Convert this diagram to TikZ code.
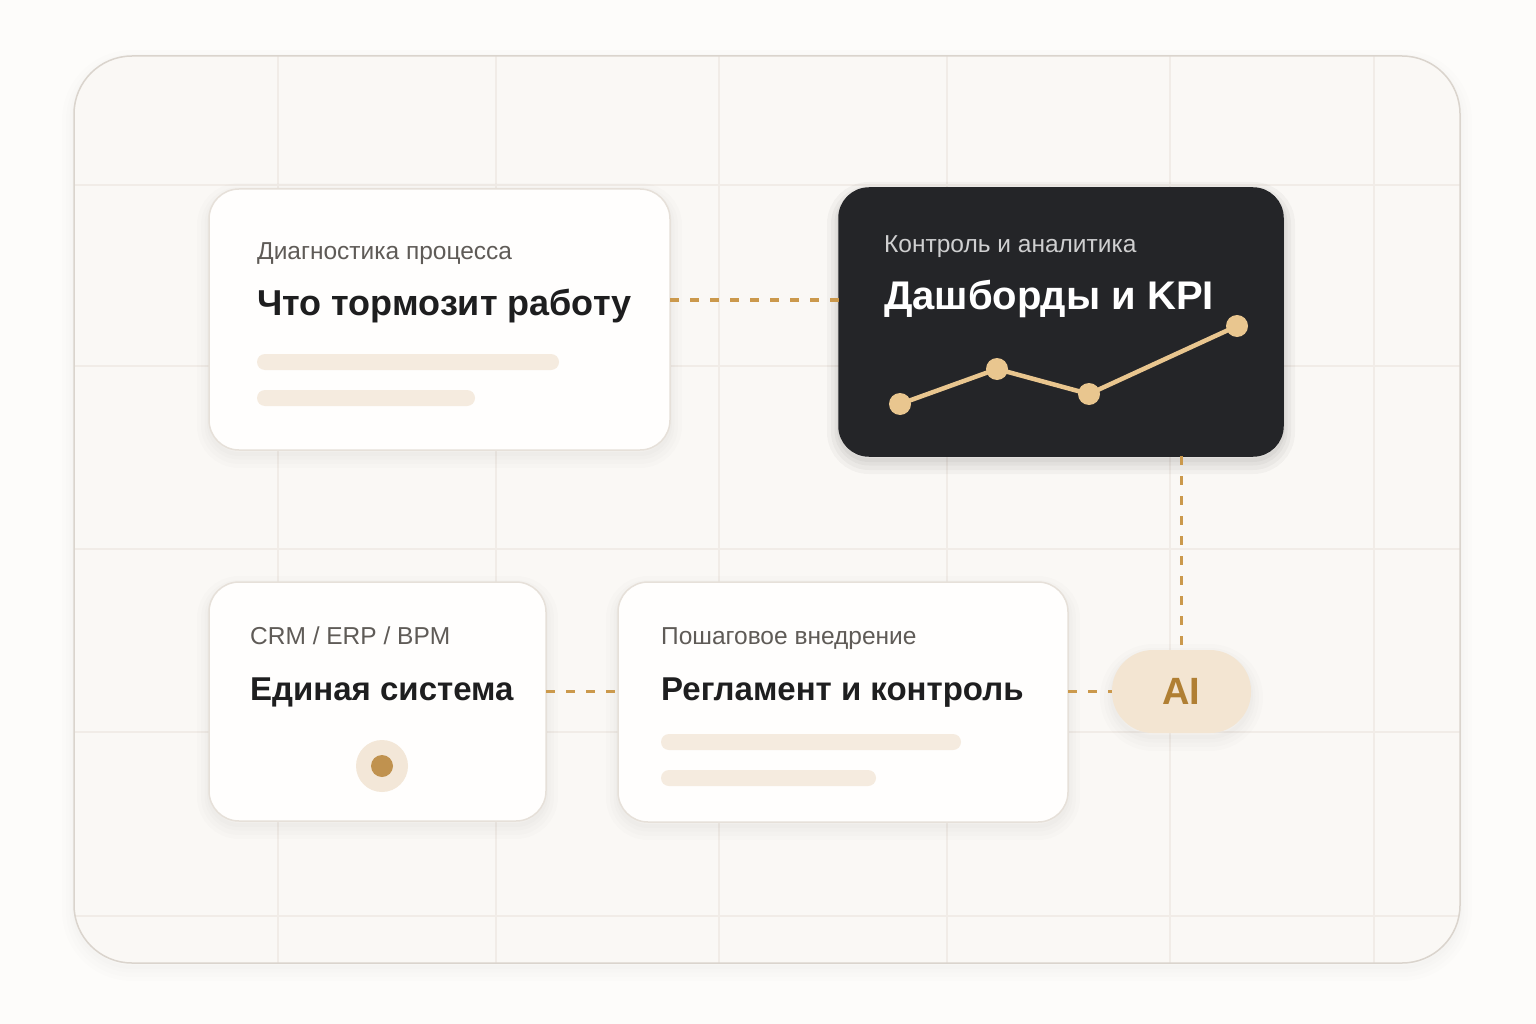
\documentclass[tikz,border=0pt]{standalone}
\usepackage{fontspec}
\setmainfont{Liberation Sans}
\usetikzlibrary{positioning}
\definecolor{paper}{HTML}{FDFCFA}
\definecolor{board}{HTML}{FAF8F5}
\definecolor{boardline}{HTML}{DAD4CD}
\definecolor{gridline}{HTML}{F1ECE7}
\definecolor{cardfill}{HTML}{FFFEFD}
\definecolor{cardline}{HTML}{E6E0D9}
\definecolor{darkcard}{HTML}{242528}
\definecolor{subgray}{HTML}{5F5B57}
\definecolor{sublight}{HTML}{CFCFD0}
\definecolor{ink}{HTML}{1E1E1F}
\definecolor{sand}{HTML}{F5EBDF}
\definecolor{gold}{HTML}{CB994C}
\definecolor{chart}{HTML}{E9C68F}
\definecolor{aifill}{HTML}{F3E5D2}
\definecolor{aitext}{HTML}{B07F33}
\definecolor{coin}{HTML}{C0924F}
\definecolor{coinring}{HTML}{F3E7D8}

\begin{document}
\begin{tikzpicture}[x=1pt,y=-1pt]
  \tikzset{
    softshadow/.style={
      preaction={draw=black, draw opacity=#1, line width=24pt, transform canvas={yshift=-6pt}},
      preaction={draw=black, draw opacity=#1, line width=16pt, transform canvas={yshift=-6pt}},
      preaction={draw=black, draw opacity=#1, line width=9pt, transform canvas={yshift=-5pt}},
      preaction={draw=black, draw opacity=#1, line width=4pt, transform canvas={yshift=-4pt}}},
    card/.style={rectangle, rounded corners=30pt, fill=cardfill, draw=cardline, line width=1.5pt,
      inner sep=0pt, outer sep=0pt, softshadow=0.01},
    darkbox/.style={card, fill=darkcard, draw=darkcard, softshadow=0.02},
    pill/.style={rectangle, rounded corners=41pt, fill=aifill, inner sep=0pt, outer sep=0pt,
      font=\fontsize{38}{40}\selectfont\bfseries, text=aitext, softshadow=0.01},
    sub/.style={anchor=base west, inner sep=0pt, text=subgray, font=\fontsize{24.5}{27}\selectfont},
    title/.style={anchor=base west, inner sep=0pt, text=ink, font=\fontsize{36}{39}\selectfont\bfseries},
    bar/.style={fill=sand, rounded corners=8pt},
    link/.style={draw=gold, line width=3.5pt, dash pattern=on 9pt off 11pt},
    chartline/.style={draw=chart, line width=4.5pt, line join=round},
    chartdot/.style={fill=chart},
  }
  \useasboundingbox (0,0) rectangle (1536,1024);
  \fill[paper] (0,0) rectangle (1536,1024);

  % The board with its grid.
  \path[fill=board, rounded corners=58pt, softshadow=0.006] (74,56) rectangle (1460,963);
  \begin{scope}
    \clip[rounded corners=58pt] (74,56) rectangle (1460,963);
    \draw[gridline, line width=1.2pt] (278,56) -- (278,963);
    \draw[gridline, line width=1.2pt] (496,56) -- (496,963);
    \draw[gridline, line width=1.2pt] (719,56) -- (719,963);
    \draw[gridline, line width=1.2pt] (947,56) -- (947,963);
    \draw[gridline, line width=1.2pt] (1170,56) -- (1170,963);
    \draw[gridline, line width=1.2pt] (1374,56) -- (1374,963);
    \draw[gridline, line width=1.2pt] (74,185) -- (1460,185);
    \draw[gridline, line width=1.2pt] (74,366) -- (1460,366);
    \draw[gridline, line width=1.2pt] (74,549) -- (1460,549);
    \draw[gridline, line width=1.2pt] (74,732) -- (1460,732);
    \draw[gridline, line width=1.2pt] (74,916) -- (1460,916);
  \end{scope}
  \draw[boardline, line width=1.5pt, rounded corners=58pt] (74,56) rectangle (1460,963);

  % Cards first, so the links can start at their edges.
  \node[card, minimum width=461pt, minimum height=261pt] (diag) at (439.5,319.5) {};
  \node[darkbox, minimum width=444pt, minimum height=268pt] (kpi) at (1061,322) {};
  \node[card, minimum width=337pt, minimum height=239pt] (crm) at (377.5,701.5) {};
  \node[card, minimum width=450pt, minimum height=240pt] (rules) at (843,702) {};
  \node[pill, minimum width=139pt, minimum height=83pt] (ai) at (1181.5,691.5) {AI};

  % Dashed links between the cards.
  \coordinate (toprow) at (0,300);
  \draw[link] (diag.east |- toprow) -- (kpi.west |- toprow);
  \draw[link] (ai.north |- kpi.south) -- (ai.north);
  \draw[link] (crm.east |- ai) -- (rules.west |- ai);
  \draw[link] (rules.east |- ai) -- (ai.west);

  % Texts of the cards.
  \node[sub] (diagsub) at (257,260) {Диагностика процесса};
  \node[title] (diagtitle) at (257,316) {Что тормозит работу};
  \node[sub, text=sublight] (kpisub) at (884,253) {Контроль и аналитика};
  \node[title, text=white, font=\fontsize{40}{43}\selectfont\bfseries] (kpititle) at (884,309) {Дашборды и KPI};
  \node[sub] (crmsub) at (250,644) {CRM / ERP / BPM};
  \node[title, font=\fontsize{33}{36}\selectfont\bfseries] (crmtitle) at (250,700) {Единая система};
  \node[sub] (rulessub) at (661,644) {Пошаговое внедрение};
  \node[title, font=\fontsize{33}{36}\selectfont\bfseries] (rulestitle) at (661,700) {Регламент и контроль};

  % Placeholder bars.
  \path[bar] (257,354) rectangle (559,370);
  \path[bar] (257,390) rectangle (475,406);
  \path[bar] (661,734) rectangle (961,750);
  \path[bar] (661,770) rectangle (876,786);

  % The little chart in the dark card.
  \coordinate (p1) at (900,404);
  \coordinate (p2) at (997,369);
  \coordinate (p3) at (1089,394);
  \coordinate (p4) at (1237,326);
  \draw[chartline] (p1) -- (p2) -- (p3) -- (p4);
  \fill[chartdot] (p1) circle (11pt);
  \fill[chartdot] (p2) circle (11pt);
  \fill[chartdot] (p3) circle (11pt);
  \fill[chartdot] (p4) circle (11pt);

  % The dot in the system card.
  \fill[coinring] (382,766) circle (26pt);
  \fill[coin] (382,766) circle (11pt);
\end{tikzpicture}
\end{document}
